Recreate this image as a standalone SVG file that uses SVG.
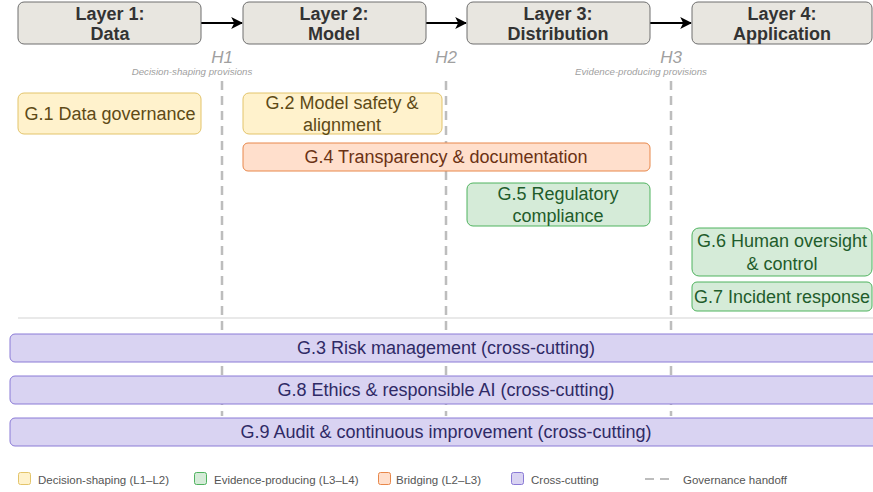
<svg xmlns="http://www.w3.org/2000/svg" width="873" height="492" viewBox="0 0 873 492">
  <style>
    text { font-family: "Liberation Sans", Arial, sans-serif; }
    .layer rect { fill: #e8e6e0; stroke: #6e6e6e; stroke-width: 1; }
    .layer text { font-size: 18px; font-weight: bold; fill: #333333; text-anchor: middle; }
    .flow { stroke: #000000; stroke-width: 2; fill: none; }
    .handoff { stroke: #bdbdbd; stroke-width: 2.5; stroke-dasharray: 9 6; fill: none; }
    .hlabel { font-size: 17px; font-style: italic; fill: #a0a0a0; text-anchor: middle; }
    .hsub { font-size: 9.7px; font-style: italic; fill: #a0a0a0; text-anchor: middle; }
    .g text { font-size: 18px; text-anchor: middle; }
    .shaping rect { fill: #fff2cc; stroke: #e3c46a; }
    .shaping text { fill: #5e4a16; }
    .evidence rect { fill: #d5ebd8; stroke: #4fb35f; }
    .evidence text { fill: #1f5c2b; }
    .bridging rect { fill: #ffdfcc; stroke: #e8874a; }
    .bridging text { fill: #6b3214; }
    .cross rect { fill: #d9d3f2; stroke: #8a7ad6; }
    .cross text { fill: #2f2a66; }
    .legend text { font-size: 11.5px; fill: #555555; }
    .legend rect { stroke-width: 1; }
  </style>
  <defs>
    <marker id="arrowBig" viewBox="0 0 10 10" refX="9" refY="5" markerWidth="12" markerHeight="12" markerUnits="userSpaceOnUse" orient="auto">
      <path d="M0,0 L10,5 L0,10 L2.5,5 z" fill="#000000"/>
    </marker>
  </defs>

  <!-- Governance handoff lines (drawn first, boxes sit over them) -->
  <g id="handoffs">
    <line class="handoff" x1="222" y1="81" x2="222" y2="416"/>
    <line class="handoff" x1="446" y1="81" x2="446" y2="416"/>
    <line class="handoff" x1="671" y1="81" x2="671" y2="416"/>
    <text class="hlabel" x="222" y="63">H1</text>
    <text class="hsub" x="192" y="75">Decision-shaping provisions</text>
    <text class="hlabel" x="446" y="63">H2</text>
    <text class="hlabel" x="671" y="63">H3</text>
    <text class="hsub" x="641" y="75">Evidence-producing provisions</text>
  </g>

  <!-- Separator between layer-specific and cross-cutting provisions -->
  <line x1="18" y1="318" x2="873" y2="318" stroke="#e2e2e2" stroke-width="1.5"/>

  <!-- Layer flow connectors -->
  <g id="connectors">
    <line class="flow" x1="201" y1="23" x2="242" y2="23" marker-end="url(#arrowBig)"/>
    <line class="flow" x1="426" y1="23" x2="466" y2="23" marker-end="url(#arrowBig)"/>
    <line class="flow" x1="650" y1="23" x2="691" y2="23" marker-end="url(#arrowBig)"/>
  </g>

  <!-- Layers -->
  <g id="layer1" class="layer">
    <rect x="18" y="2" width="183" height="42" rx="6"/>
    <text x="110" y="20">Layer 1:</text>
    <text x="110" y="40">Data</text>
  </g>
  <g id="layer2" class="layer">
    <rect x="243" y="2" width="183" height="42" rx="6"/>
    <text x="334" y="20">Layer 2:</text>
    <text x="334" y="40">Model</text>
  </g>
  <g id="layer3" class="layer">
    <rect x="467" y="2" width="183" height="42" rx="6"/>
    <text x="558" y="20">Layer 3:</text>
    <text x="558" y="40">Distribution</text>
  </g>
  <g id="layer4" class="layer">
    <rect x="692" y="2" width="180" height="42" rx="6"/>
    <text x="782" y="20">Layer 4:</text>
    <text x="782" y="40">Application</text>
  </g>

  <!-- Layer-specific provisions -->
  <g id="g1" class="g shaping">
    <rect x="18" y="93" width="183" height="41" rx="6"/>
    <text x="110" y="120">G.1 Data governance</text>
  </g>
  <g id="g2" class="g shaping">
    <rect x="243" y="93" width="199" height="41" rx="6"/>
    <text x="342" y="109">G.2 Model safety &amp;</text>
    <text x="342" y="131">alignment</text>
  </g>
  <g id="g4" class="g bridging">
    <rect x="243" y="143" width="407" height="28" rx="5"/>
    <text x="446" y="163">G.4 Transparency &amp; documentation</text>
  </g>
  <g id="g5" class="g evidence">
    <rect x="467" y="183" width="183" height="43" rx="6"/>
    <text x="558" y="200">G.5 Regulatory</text>
    <text x="558" y="222">compliance</text>
  </g>
  <g id="g6" class="g evidence">
    <rect x="692" y="228" width="180" height="48" rx="7"/>
    <text x="782" y="247">G.6 Human oversight</text>
    <text x="782" y="270">&amp; control</text>
  </g>
  <g id="g7" class="g evidence">
    <rect x="692" y="282" width="180" height="29" rx="5"/>
    <text x="782" y="303">G.7 Incident response</text>
  </g>

  <!-- Cross-cutting provisions -->
  <g id="g3" class="g cross">
    <rect x="10" y="334" width="875" height="28" rx="5"/>
    <text x="446" y="354">G.3 Risk management (cross-cutting)</text>
  </g>
  <g id="g8" class="g cross">
    <rect x="10" y="376" width="875" height="28" rx="5"/>
    <text x="446" y="396">G.8 Ethics &amp; responsible AI (cross-cutting)</text>
  </g>
  <g id="g9" class="g cross">
    <rect x="10" y="418" width="875" height="28" rx="5"/>
    <text x="446" y="438">G.9 Audit &amp; continuous improvement (cross-cutting)</text>
  </g>

  <!-- Legend -->
  <g id="legend" class="legend">
    <rect x="18.5" y="472.5" width="12" height="12" rx="2" fill="#fff2cc" stroke="#e3c46a"/>
    <text x="38" y="484">Decision-shaping (L1–L2)</text>
    <rect x="194.5" y="472.5" width="12" height="12" rx="2" fill="#d5ebd8" stroke="#4fb35f"/>
    <text x="214" y="484">Evidence-producing (L3–L4)</text>
    <rect x="378.5" y="472.5" width="12" height="12" rx="2" fill="#ffdfcc" stroke="#e8874a"/>
    <text x="396" y="484">Bridging (L2–L3)</text>
    <rect x="511.5" y="472.5" width="12" height="12" rx="2" fill="#d9d3f2" stroke="#8a7ad6"/>
    <text x="531" y="484">Cross-cutting</text>
    <line x1="645" y1="479" x2="671" y2="479" stroke="#bdbdbd" stroke-width="2" stroke-dasharray="9 6"/>
    <text x="683" y="484">Governance handoff</text>
  </g>
</svg>
